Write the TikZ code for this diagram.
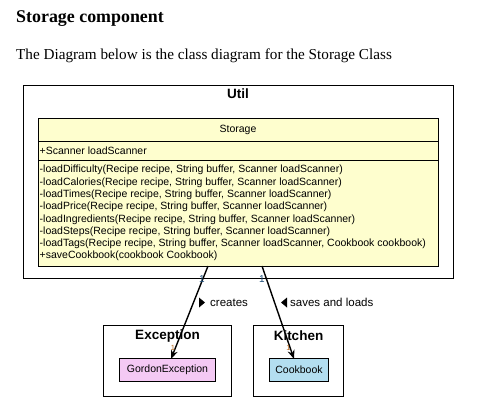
\documentclass[tikz,border=0pt]{standalone}
\usepackage{fontspec}
\setmainfont{Liberation Serif}
\setsansfont{Liberation Sans}
\usetikzlibrary{arrows.meta}
\definecolor{umlyellow}{HTML}{FEFECE}
\definecolor{pinkcls}{HTML}{F4C9F4}
\definecolor{bluecls}{HTML}{B3DEF0}
\definecolor{multblue}{HTML}{1F4E79}
\definecolor{multbrown}{HTML}{B8691E}
\tikzset{
  pkg/.style={draw=black, line width=0.8pt},
  cls/.style={draw=black, line width=0.8pt},
  umltext/.style={font=\sffamily\fontsize{10.5}{12.3}\selectfont, text=black},
  pkgtitle/.style={font=\sffamily\bfseries\fontsize{13.5}{15}\selectfont, inner sep=0pt},
  assoc/.style={-{Stealth[length=9pt,width=7pt]}, line width=1.4pt},
  mult/.style={font=\sffamily\fontsize{10}{12}\selectfont, inner sep=0pt},
  lbl/.style={font=\sffamily\fontsize{11.5}{13}\selectfont, inner sep=0pt, anchor=west},
}
\begin{document}
\begin{tikzpicture}[x=1pt,y=-1pt]
\useasboundingbox (0,0) rectangle (478,413);
% headings
\node[anchor=base west, inner sep=0pt, font=\bfseries\fontsize{17.9}{20}\selectfont] (h) at (16,22.5) {Storage component};
\node[anchor=base west, inner sep=0pt, font=\fontsize{15.2}{18}\selectfont] (p) at (16,59) {The Diagram below is the class diagram for the Storage Class};
% Util package
\draw[pkg] (23,85) rectangle (453,278);
\node[pkgtitle] (util) at (238,94) {Util};
% Storage class
\draw[cls, fill=umlyellow] (38,118) rectangle (438,266);
\draw[cls] (38,141) -- (438,141);
\draw[cls] (38,160) -- (438,160);
\node[umltext, inner sep=0pt] (stname) at (238,129.5) {Storage};
\node[umltext, inner sep=0pt, anchor=west] (attr) at (39.5,150.5) {+Scanner loadScanner};
\node[umltext, inner sep=0pt, anchor=north west, align=left] (meth) at (39.5,165) {%
-loadDifficulty(Recipe recipe, String buffer, Scanner loadScanner)\\
-loadCalories(Recipe recipe, String buffer, Scanner loadScanner)\\
-loadTimes(Recipe recipe, String buffer, Scanner loadScanner)\\
-loadPrice(Recipe recipe, String buffer, Scanner loadScanner)\\
-loadIngredients(Recipe recipe, String buffer, Scanner loadScanner)\\
-loadSteps(Recipe recipe, String buffer, Scanner loadScanner)\\
-loadTags(Recipe recipe, String buffer, Scanner loadScanner, Cookbook cookbook)\\
+saveCookbook(cookbook Cookbook)};
% Exception package
\draw[pkg] (103.5,325) rectangle (231,396);
\node[pkgtitle] (exc) at (167.5,335.5) {Exception};
\draw[cls, fill=pinkcls] (119.5,358.5) rectangle (215.5,381.5);
\node[umltext, inner sep=0pt] (ge) at (167.5,370) {GordonException};
% Kitchen package
\draw[pkg] (253.5,325) rectangle (343.5,396);
\node[pkgtitle] (kit) at (298.5,335.5) {Kitchen};
\draw[cls, fill=bluecls] (269.5,358.5) rectangle (328.5,381.5);
\node[umltext, inner sep=0pt] (cb) at (299,370) {Cookbook};
% connectors
\coordinate (s1) at (208,266);
\coordinate (e1) at (171,359);
\coordinate (s2) at (262,266);
\coordinate (e2) at (294,359);
\draw[assoc] (s1) -- (e1);
\draw[assoc] (s2) -- (e2);
% multiplicities
\node[mult, text=multblue] (m1) at (202,279) {1};
\node[mult, text=multblue] (m2) at (262,279) {1};
\node[mult, text=multbrown, font=\sffamily\fontsize{7.5}{9}\selectfont] (m3) at (173,347.5) {1};
\node[mult, text=multbrown, font=\sffamily\fontsize{7.5}{9}\selectfont] (m4) at (288.5,347.5) {1};
% labels
\fill (199,297.5) -- (205,302.5) -- (199,307.5) -- cycle;
\node[lbl] (cr) at (210,302.5) {creates};
\fill (287,297.5) -- (281,302.5) -- (287,307.5) -- cycle;
\node[lbl] (sl) at (290,302.5) {saves and loads};
\end{tikzpicture}
\end{document}
